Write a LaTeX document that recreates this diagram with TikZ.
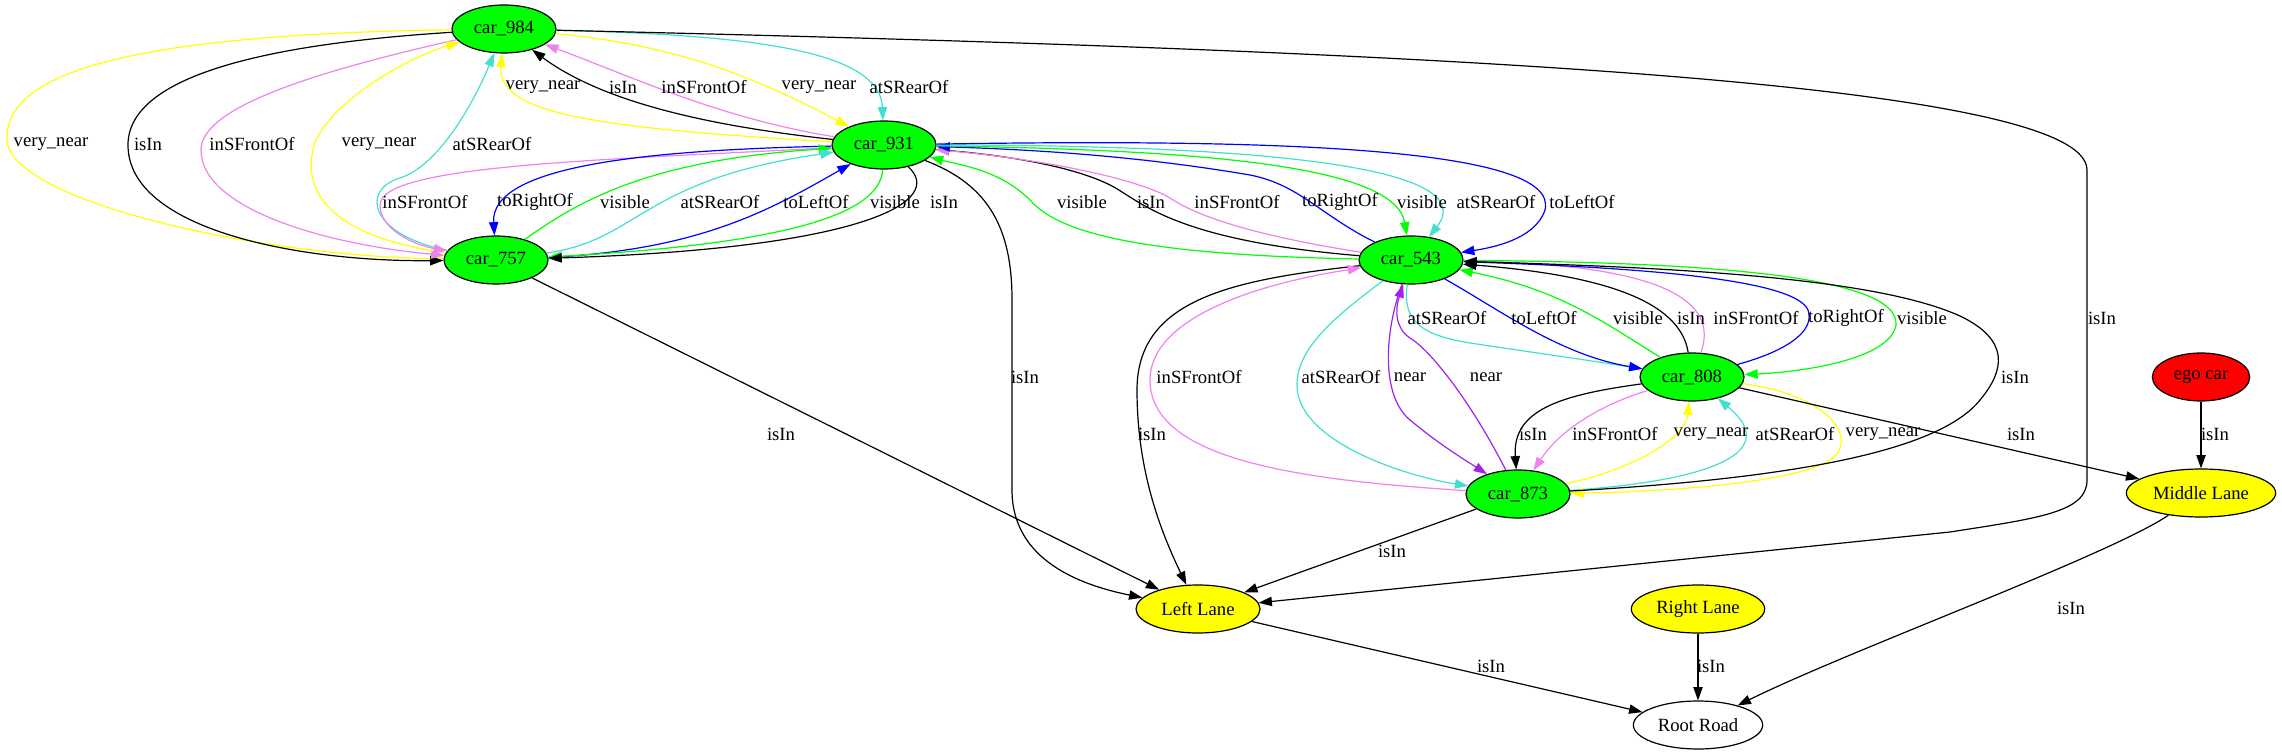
\documentclass[tikz,border=0pt]{standalone}
\usepackage{fontspec}
\setmainfont{Liberation Serif}
\usetikzlibrary{shapes.geometric,arrows.meta}
\definecolor{gvgreen}{HTML}{00FF00}
\definecolor{gvyellow}{HTML}{FFFF00}
\definecolor{gvviolet}{HTML}{EE82EE}
\definecolor{gvturq}{HTML}{40E0D0}
\definecolor{gvblue}{HTML}{0000FF}
\definecolor{gvpurple}{HTML}{A020F0}
\definecolor{gvred}{HTML}{FF0000}
\tikzset{
  every node/.style={font=\fontsize{14pt}{16pt}\selectfont},
  gnode/.style={ellipse, draw, line width=0.9pt, minimum height=36pt, inner sep=0pt},
  car/.style={gnode, fill=gvgreen, minimum width=78pt},
  lane/.style={gnode, fill=gvyellow},
  lbl/.style={inner sep=0pt},
  e/.style={-{Triangle[length=10pt,width=7pt]}, line width=0.9pt},
}
\begin{document}
\begin{tikzpicture}[x=0.75pt,y=-0.75pt]
\useasboundingbox (0,0) rectangle (2282,755);
% nodes
\node[car] (c984) at (504,29) {car\_984};
\node[car] (c931) at (884,145) {car\_931};
\node[car] (c757) at (496,260) {car\_757};
\node[car] (c543) at (1411,260) {car\_543};
\node[car] (c808) at (1692,377) {car\_808};
\node[car] (c873) at (1518,494) {car\_873};
\node[lane, minimum width=93pt] (LL) at (1198,609) {Left Lane};
\node[lane, minimum width=100pt] (RL) at (1698,609) {Right Lane};
\node[gnode, fill=white, minimum width=97pt] (RR) at (1698,725) {Root Road};
\node[gnode, fill=gvred, minimum width=73pt] (ego) at (2201,377) {ego car};
\node[lane, minimum width=112pt] (ML) at (2201,493) {Middle Lane};

% edges car_984 <-> car_757
\draw[e,gvyellow] (c984) .. controls (100,35) and (5,80) .. (7,140) .. controls (10,200) and (250,255) .. (c757);
\draw[e,black] (c984) .. controls (250,45) and (128,80) .. (128,145) .. controls (128,230) and (300,262) .. (c757);
\draw[e,gvviolet] (c984) .. controls (300,75) and (201,110) .. (201,150) .. controls (201,210) and (330,245) .. (c757);
\draw[e,gvyellow] (c757) .. controls (320,235) and (305,185) .. (313,150) .. controls (320,110) and (400,60) .. (c984);
\draw[e,gvturq] (c757) .. controls (370,235) and (360,190) .. (400,178) .. controls (440,165) and (475,100) .. (c984);
% car_931 <-> car_984
\draw[e,gvyellow] (c931) .. controls (600,128) and (497,115) .. (c984);
\draw[e,black] (c931) .. controls (700,125) and (600,100) .. (c984);
\draw[e,gvviolet] (c931) .. controls (720,118) and (640,80) .. (c984);
\draw[e,gvyellow] (c984) .. controls (680,45) and (760,80) .. (c931);
\draw[e,gvturq] (c984) .. controls (750,35) and (880,50) .. (c931);
% car_984 -> Left Lane
\draw[e,black] (c984) .. controls (1400,50) and (2087,80) .. (2087,170) -- (2087,480) .. controls (2087,512) and (2040,518) .. (1950,532) -- (LL);
% car_931 <-> car_757
\draw[e,gvviolet] (c931) .. controls (600,160) and (380,165) .. (380,205) .. controls (380,230) and (415,245) .. (c757);
\draw[e,gvblue] (c931) .. controls (650,150) and (490,165) .. (c757);
\draw[e,gvgreen] (c757) .. controls (580,200) and (650,160) .. (c931);
\draw[e,gvturq] (c757) .. controls (640,240) and (640,180) .. (c931);
\draw[e,gvblue] (c757) .. controls (700,250) and (770,210) .. (c931);
\draw[e,gvgreen] (c931) .. controls (880,220) and (760,245) .. (c757);
\draw[e,black] (c931) .. controls (945,200) and (870,248) .. (c757);
% to Left Lane
\draw[e,black] (c931) .. controls (990,185) and (1012,230) .. (1012,300) -- (1012,490) .. controls (1012,560) and (1080,585) .. (LL);
\draw[e,black] (c757) -- (LL);
% car_543 <-> car_931
\draw[e,gvgreen] (c543) .. controls (1150,255) and (1060,235) .. (1030,200) .. controls (1000,170) and (960,165) .. (c931);
\draw[e,black] (c543) .. controls (1170,240) and (1140,200) .. (1110,185) .. controls (1070,165) and (1000,155) .. (c931);
\draw[e,gvviolet] (c543) .. controls (1250,235) and (1195,215) .. (1170,198) .. controls (1140,180) and (1050,160) .. (c931);
\draw[e,gvblue] (c543) .. controls (1320,215) and (1300,185) .. (1250,175) .. controls (1150,158) and (1050,150) .. (c931);
\draw[e,gvgreen] (c931) .. controls (1200,150) and (1395,165) .. (c543);
\draw[e,gvturq] (c931) .. controls (1250,145) and (1485,165) .. (c543);
\draw[e,gvblue] (c931) .. controls (1300,138) and (1560,150) .. (1545,210) .. controls (1535,240) and (1490,248) .. (c543);
% car_543 <-> car_808
\draw[e,gvturq] (c543) .. controls (1402,320) and (1420,335) .. (1470,343) .. controls (1530,352) and (1600,362) .. (c808);
\draw[e,gvblue] (c543) .. controls (1500,310) and (1560,355) .. (c808);
\draw[e,gvgreen] (c808) .. controls (1600,320) and (1560,290) .. (c543);
\draw[e,black] (c808) .. controls (1680,300) and (1600,275) .. (c543);
\draw[e,gvviolet] (c808) .. controls (1720,300) and (1660,265) .. (c543);
\draw[e,gvblue] (c808) .. controls (1790,350) and (1815,330) .. (1808,310) .. controls (1795,280) and (1650,268) .. (c543);
\draw[e,gvgreen] (c543) .. controls (1700,262) and (1900,275) .. (1896,325) .. controls (1890,360) and (1800,372) .. (c808);
% car_543 <-> car_873 / Left Lane
\draw[e,black] (c543) .. controls (1230,280) and (1137,300) .. (1137,390) .. controls (1137,470) and (1160,530) .. (LL);
\draw[e,gvviolet] (c873) .. controls (1300,480) and (1150,460) .. (1150,380) .. controls (1150,320) and (1250,285) .. (c543);
\draw[e,gvturq] (c543) .. controls (1330,320) and (1297,350) .. (1297,385) .. controls (1297,440) and (1400,475) .. (c873);
\draw[e,gvpurple] (c543) .. controls (1385,330) and (1380,395) .. (1410,420) .. controls (1440,445) and (1465,460) .. (c873);
\draw[e,gvpurple] (c873) .. controls (1470,400) and (1430,350) .. (1410,338) .. controls (1395,328) and (1395,310) .. (c543);
% car_808 <-> car_873
\draw[e,black] (c808) .. controls (1560,395) and (1512,410) .. (c873);
\draw[e,gvviolet] (c808) .. controls (1600,405) and (1560,430) .. (c873);
\draw[e,gvyellow] (c873) .. controls (1630,470) and (1685,440) .. (c808);
\draw[e,gvturq] (c873) .. controls (1720,480) and (1780,450) .. (c808);
\draw[e,gvyellow] (c808) .. controls (1830,395) and (1860,440) .. (1830,460) .. controls (1790,485) and (1650,492) .. (c873);
\draw[e,black] (c873) .. controls (1800,478) and (1940,450) .. (1980,400) .. controls (2005,370) and (2010,340) .. (1960,316) .. controls (1880,280) and (1700,268) .. (c543);
% lanes
\draw[e,black] (c808) -- (ML);
\draw[e,black] (c873) -- (LL);
\draw[e,black] (ego) -- (ML);
\draw[e,black] (LL) -- (RR);
\draw[e,black] (RL) -- (RR);
\draw[e,black] (ML) .. controls (2110,555) and (1850,650) .. (RR);

% labels
\node[lbl] (l1) at (51,144) {very\_near};
\node[lbl] (l2) at (148,144) {isIn};
\node[lbl] (l3) at (252,144) {inSFrontOf};
\node[lbl] (l4) at (379,144) {very\_near};
\node[lbl] (l5) at (492,144) {atSRearOf};
\node[lbl] (l6) at (543,87) {very\_near};
\node[lbl] (l7) at (623,87) {isIn};
\node[lbl] (l8) at (704,87) {inSFrontOf};
\node[lbl] (l9) at (819,87) {very\_near};
\node[lbl] (l10) at (909,87) {atSRearOf};
\node[lbl] (l11) at (2102,318) {isIn};
\node[lbl] (l12) at (425,202) {inSFrontOf};
\node[lbl] (l13) at (535,202) {toRightOf};
\node[lbl] (l14) at (625,202) {visible};
\node[lbl] (l15) at (720,202) {atSRearOf};
\node[lbl] (l16) at (816,202) {toLeftOf};
\node[lbl] (l17) at (895,202) {visible};
\node[lbl] (l18) at (944,202) {isIn};
\node[lbl] (l19) at (1025,377) {isIn};
\node[lbl] (l20) at (781,434) {isIn};
\node[lbl] (l21) at (1082,202) {visible};
\node[lbl] (l22) at (1151,202) {isIn};
\node[lbl] (l23) at (1237,202) {inSFrontOf};
\node[lbl] (l24) at (1340,202) {toRightOf};
\node[lbl] (l25) at (1422,202) {visible};
\node[lbl] (l26) at (1496,202) {atSRearOf};
\node[lbl] (l27) at (1582,202) {toLeftOf};
\node[lbl] (l28) at (1447,318) {atSRearOf};
\node[lbl] (l29) at (1544,318) {toLeftOf};
\node[lbl] (l30) at (1638,318) {visible};
\node[lbl] (l31) at (1691,318) {isIn};
\node[lbl] (l32) at (1756,318) {inSFrontOf};
\node[lbl] (l33) at (1846,318) {toRightOf};
\node[lbl] (l34) at (1922,318) {visible};
\node[lbl] (l35) at (1152,434) {isIn};
\node[lbl] (l36) at (1199,377) {inSFrontOf};
\node[lbl] (l37) at (1341,377) {atSRearOf};
\node[lbl] (l38) at (1410,377) {near};
\node[lbl] (l39) at (1486,377) {near};
\node[lbl] (l40) at (1533,434) {isIn};
\node[lbl] (l41) at (1615,434) {inSFrontOf};
\node[lbl] (l42) at (1711,434) {very\_near};
\node[lbl] (l43) at (1795,434) {atSRearOf};
\node[lbl] (l44) at (1883,434) {very\_near};
\node[lbl] (l45) at (2015,377) {isIn};
\node[lbl] (l46) at (2021,434) {isIn};
\node[lbl] (l47) at (1392,551) {isIn};
\node[lbl] (l48) at (2215,434) {isIn};
\node[lbl] (l49) at (1491,666) {isIn};
\node[lbl] (l50) at (1711,666) {isIn};
\node[lbl] (l51) at (2071,608) {isIn};
\end{tikzpicture}
\end{document}
